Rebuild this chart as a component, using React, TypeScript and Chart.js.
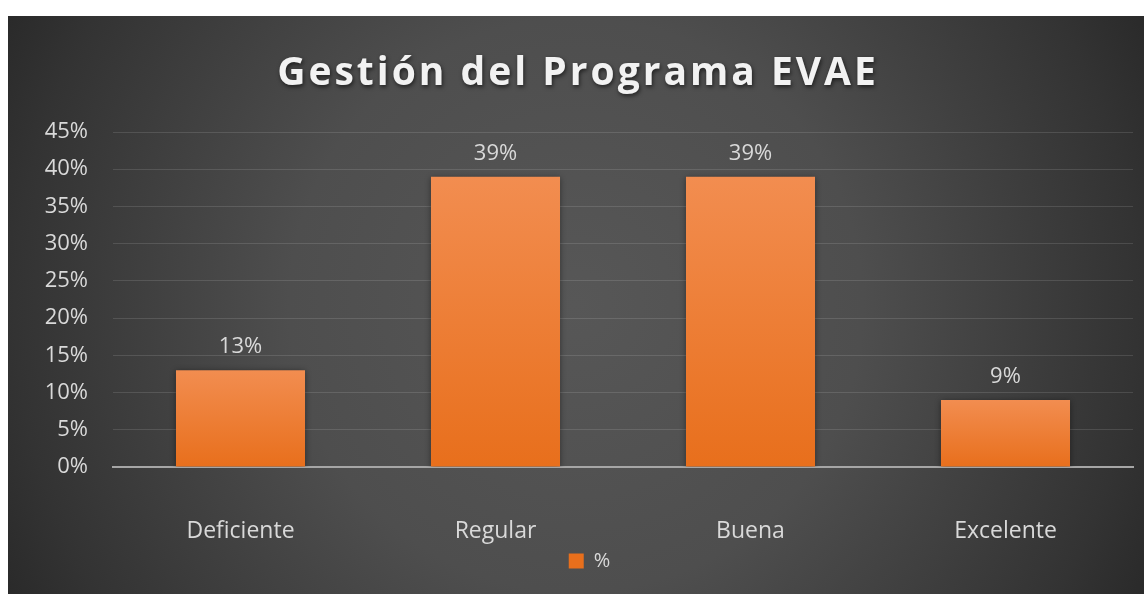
import { useEffect, useRef } from "react";
import { Chart, registerables } from "chart.js";

Chart.register(...registerables);

const chartTitle = "Gestión del Programa EVAE";
const categories = ["Deficiente", "Regular", "Buena", "Excelente"];
const seriesLabel = "%";
const values = [13, 39, 39, 9];
const yMin = 0;
const yMax = 45;
const yStep = 5;

const FONT = "'Open Sans', 'Noto Sans', sans-serif";
const TEXT = "#d9d9d9";

const titlePlugin = {
  id: "letterTitle",
  afterDraw(chart: any) {
    const ctx = chart.ctx as CanvasRenderingContext2D;
    ctx.save();
    ctx.font = `bold 39px ${FONT}`;
    (ctx as any).letterSpacing = "3px";
    ctx.textAlign = "center";
    ctx.textBaseline = "middle";
    ctx.shadowColor = "rgba(0,0,0,0.6)";
    ctx.shadowBlur = 4;
    ctx.shadowOffsetX = 1;
    ctx.shadowOffsetY = 2;
    ctx.fillStyle = "#f2f2f2";
    ctx.fillText(chartTitle, chart.width / 2 + 2, 58);
    ctx.restore();
  },
};

const legendShiftPlugin = {
  id: "legendShift",
  afterLayout(chart: any) {
    const lg = chart.legend;
    if (lg) {
      lg.left += 19;
      lg.right += 19;
    }
  },
};

const shadowPlugin = {
  id: "barShadow",
  beforeDatasetsDraw(chart: any) {
    const ctx = chart.ctx as CanvasRenderingContext2D;
    ctx.save();
    ctx.shadowColor = "rgba(0,0,0,0.45)";
    ctx.shadowBlur = 6;
    ctx.shadowOffsetX = 0;
    ctx.shadowOffsetY = 1;
  },
  afterDatasetsDraw(chart: any) {
    chart.ctx.restore();
  },
};

const valueLabelPlugin = {
  id: "valueLabels",
  afterDatasetsDraw(chart: any) {
    const ctx = chart.ctx as CanvasRenderingContext2D;
    const meta = chart.getDatasetMeta(0);
    ctx.save();
    ctx.font = `22px ${FONT}`;
    ctx.fillStyle = TEXT;
    ctx.textAlign = "center";
    ctx.textBaseline = "middle";
    meta.data.forEach((bar: any, i: number) => {
      ctx.fillText(`${values[i]}%`, bar.x, bar.y - 23);
    });
    ctx.restore();
  },
};

export default function App() {
  const canvasRef = useRef<HTMLCanvasElement | null>(null);

  useEffect(() => {
    if (!canvasRef.current) return;
    const chart = new Chart(canvasRef.current, {
      type: "bar",
      data: {
        labels: categories,
        datasets: [
          {
            label: seriesLabel,
            data: values,
            backgroundColor: (c: any) => {
              const ch = c.chart;
              if (!ch.chartArea || c.type !== "data") return "#EF7F2F";
              const ys = ch.scales.y;
              const top = ys.getPixelForValue(c.raw as number);
              const bottom = ys.getPixelForValue(0);
              if (!isFinite(top) || !isFinite(bottom) || top === bottom) return "#EF7F2F";
              const g = ch.ctx.createLinearGradient(0, top, 0, bottom);
              g.addColorStop(0, "#F28D50");
              g.addColorStop(1, "#E86F1C");
              return g;
            },
            borderWidth: 0,
            categoryPercentage: 1,
            barPercentage: 0.506,
          },
        ],
      },
      options: {
        animation: false,
        responsive: true,
        maintainAspectRatio: false,
        layout: { padding: { top: 116, left: 0, right: 11, bottom: 13 } },
        plugins: {
          title: { display: false },
          tooltip: { enabled: false },
          legend: {
            display: true,
            position: "bottom",
            labels: {
              color: TEXT,
              font: { family: FONT, size: 20 },
              boxWidth: 15,
              boxHeight: 15,
              padding: 4,
            },
          },
        },
        scales: {
          x: {
            grid: { display: false, drawTicks: false },
            border: { display: true, color: "#a6a6a6", width: 2 },
            ticks: { color: TEXT, font: { family: FONT, size: 23 }, padding: 51 },
            afterFit: (s: any) => {
              s.height = 80;
            },
          },
          y: {
            min: yMin,
            max: yMax,
            grid: {
              color: (c: any) => (c.tick && c.tick.value === 0 ? "rgba(0,0,0,0)" : "rgba(255,255,255,0.12)"),
              lineWidth: 1,
              drawTicks: false,
            },
            border: { display: false },
            ticks: {
              stepSize: yStep,
              color: TEXT,
              font: { family: FONT, size: 22 },
              padding: 25,
              callback: (v: any) => `${v}%`,
            },
            afterFit: (s: any) => {
              s.width = 105;
            },
          },
        },
      },
      plugins: [legendShiftPlugin, shadowPlugin, valueLabelPlugin, titlePlugin],
    });
    return () => chart.destroy();
  }, []);

  return (
    <div
      style={{
        position: "fixed",
        left: 8,
        top: 16,
        width: 1136,
        height: 578,
        background:
          "radial-gradient(circle at 50% 50%, #575757 0%, #4e4e4e 45%, #333333 88%, #2a2a2a 100%)",
      }}
    >
      <canvas ref={canvasRef} />
    </div>
  );
}
